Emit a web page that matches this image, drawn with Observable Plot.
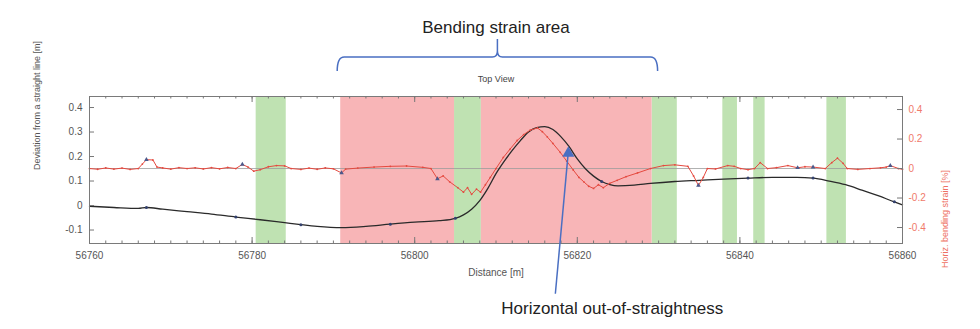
<!DOCTYPE html>
<html><head><meta charset="utf-8">
<script src="https://cdn.jsdelivr.net/npm/d3@7"></script>
<script src="https://cdn.jsdelivr.net/npm/@observablehq/plot@0.6"></script>
<style>body{margin:0;background:#fff} #chart svg{display:block}</style>
</head><body><div id="chart"></div>
<script>
// ---- data ----
const xTicks = [56760, 56780, 56800, 56820, 56840, 56860];
const yLeftTicks = [-0.1, 0, 0.1, 0.2, 0.3, 0.4];
const yRightTicks = [-0.4, -0.2, 0, 0.2, 0.4];

const greenStart = [56780.5, 56804.9, 56829.2, 56837.9, 56841.7, 56850.7];
const greenEnd   = [56784.2, 56808.2, 56832.3, 56839.7, 56843.1, 56853.1];
const redStart = [56790.9, 56808.2];
const redEnd   = [56804.9, 56829.2];

// deviation from a straight line [m] (left axis)
const devX = [56760,56763,56766,56767,56769,56772,56775,56778,56781,56784,56786,56788,56791,56794,56797,56800,56803,56805,56806,56807,56808,56809,56810,56811,56812,56813,56814,56815,56816,56817,56818,56819,56820,56821,56822,56823,56824,56825,56827,56829,56832,56835,56838,56841,56844,56847,56849,56851,56853,56855,56857,56859,56860];
const devY = [-0.003,-0.008,-0.012,-0.008,-0.015,-0.025,-0.035,-0.047,-0.058,-0.07,-0.078,-0.085,-0.09,-0.085,-0.076,-0.068,-0.062,-0.052,-0.038,-0.015,0.02,0.07,0.13,0.18,0.225,0.265,0.3,0.318,0.322,0.31,0.28,0.24,0.19,0.15,0.12,0.098,0.085,0.08,0.083,0.09,0.098,0.103,0.108,0.112,0.115,0.115,0.112,0.1,0.085,0.063,0.04,0.015,0.003];
const devMarkX = [56767, 56778, 56786, 56797, 56805, 56823, 56841, 56849, 56859];

// horizontal bending strain [%] (right axis)
const strainX = [56760,56761,56762,56763,56764,56765,56766,56766.5,56767,56767.8,56768.3,56769,56770,56771,56772,56773,56774,56775,56776,56777,56778,56778.8,56779.5,56780.2,56781,56782,56783,56784,56784.8,56786,56787,56788,56789,56790,56791,56791.5,56793,56795,56797,56799,56801,56802,56802.8,56803.5,56804.3,56805.3,56806,56806.5,56807,56807.6,56808.1,56808.7,56809.3,56810,56810.9,56811.7,56812.6,56813.4,56814.2,56815.1,56815.7,56816.3,56817,56817.9,56818.7,56819.5,56820.2,56820.8,56821.4,56822,56822.6,56823.2,56824,56824.9,56826,56827.4,56829,56830.6,56832,56833.6,56834.3,56834.9,56835.5,56836,56837,56838.5,56839.3,56840.1,56841,56841.8,56842.5,56843.4,56844.5,56845.9,56847.1,56848,56849,56850.5,56851.3,56852,56852.7,56853.2,56854.5,56856,56857.3,56858,56858.5,56859.5,56860];
const strainY = [0,-0.005,0.004,-0.004,0.003,-0.006,0,0.03,0.06,0.058,0.01,0.004,-0.004,0.006,0,0.005,-0.003,0.006,-0.002,0.007,0,0.028,0.01,-0.018,-0.008,0.012,0.02,0.018,0,-0.006,0.003,-0.005,0.004,-0.002,-0.03,-0.004,0.003,0.01,0.015,0.017,0.008,0,-0.07,-0.05,-0.09,-0.13,-0.16,-0.13,-0.175,-0.14,-0.16,-0.11,-0.06,0,0.075,0.13,0.19,0.23,0.26,0.275,0.25,0.215,0.17,0.11,0.05,-0.01,-0.06,-0.09,-0.12,-0.135,-0.11,-0.13,-0.1,-0.08,-0.055,-0.03,0,0.02,0.025,0.015,-0.05,-0.115,-0.06,0,-0.003,0.02,0.015,0,-0.008,0,0.04,0,0.006,0.02,0.005,0.012,0.01,0,0.04,0.07,0.035,0,-0.006,0,0.005,0.01,0.02,0,-0.005];
const strainMarkX = [56767, 56778.8, 56791, 56802.8, 56834.9, 56847.1, 56849, 56858.5];

// annotation arrow: from label to the out-of-straightness peak
const arrowFrom = {d: 56817.3, v: -0.36};
const arrowTo = {d: 56818.9, v: 0.222};

// ---- build ----
const W = 980, H = 329, ML = 89, MR = 78, MT = 96, MB = 86;
const plotW = W - ML - MR, plotH = H - MT - MB;
const toLeft = s => 0.151 + 0.602 * s;   // right-axis strain -> left-axis units
const fmt = d => d === 0 ? "0" : String(d);

const green = greenStart.map((a, i) => ({a, b: greenEnd[i]}));
const red = redStart.map((a, i) => ({a, b: redEnd[i]}));
const dev = devX.map((d, i) => ({d, v: devY[i]}));
const devMarks = dev.filter(p => devMarkX.includes(p.d));
const strain = strainX.map((d, i) => ({d, s: strainY[i]}));
const strainMarks = strain.filter(p => strainMarkX.includes(p.d));
const xMinor = d3.range(xTicks[0], xTicks[xTicks.length - 1] + 1, 2);

const font = "'Liberation Sans', Arial, sans-serif";
const blue = "#4a6fc2";

const chart = Plot.plot({
  width: W, height: H,
  marginLeft: ML, marginRight: MR, marginTop: MT, marginBottom: MB,
  style: {fontFamily: font, fontSize: "10px", color: "#555", background: "#fff"},
  x: {domain: [56760, 56860]},
  y: {domain: [-0.155, 0.445]},
  marks: [
    Plot.rect(green, {x1: "a", x2: "b", fill: "#bfe2b2"}),
    Plot.rect(red, {x1: "a", x2: "b", fill: "#f8b5b7"}),
    Plot.ruleY([toLeft(0)], {stroke: "#9a9a9a", strokeWidth: 0.8}),
    Plot.line(dev, {x: "d", y: "v", stroke: "#2a2a2a", strokeWidth: 1.3, curve: "monotone-x"}),
    Plot.dot(devMarks, {x: "d", y: "v", r: 1.5, fill: "#33416e"}),
    Plot.line(strain, {x: "d", y: d => toLeft(d.s), stroke: "#e5493f", strokeWidth: 1}),
    Plot.dot(strain, {x: "d", y: d => toLeft(d.s), r: 0.9, fill: "#e5493f"}),
    Plot.dot(strainMarks, {x: "d", y: d => toLeft(d.s), r: 1.7, symbol: "triangle", fill: "#4b5a8c"}),
    Plot.frame({stroke: "#7a7a7a"}),
    Plot.tickX(xMinor, {x: d => d, insetTop: plotH - 2.5, stroke: "#777"}),
    Plot.tickX(xMinor, {x: d => d, insetBottom: plotH - 2.5, stroke: "#777"}),
    Plot.tickX(xTicks, {x: d => d, insetTop: plotH - 6, stroke: "#777"}),
    Plot.tickX(xTicks, {x: d => d, insetBottom: plotH - 6, stroke: "#777"}),
    Plot.tickY(yLeftTicks, {y: d => d, insetRight: plotW - 5, stroke: "#777"}),
    Plot.tickY(yRightTicks.map(toLeft), {y: d => d, insetLeft: plotW - 5, stroke: "#777"}),
    Plot.axisX(xTicks, {tickSize: 0, tickPadding: 8, tickFormat: d => String(d), label: null}),
    Plot.axisY(yLeftTicks, {tickSize: 0, tickPadding: 7, tickFormat: fmt, label: null}),
    Plot.text(yRightTicks, {y: d => toLeft(d), frameAnchor: "right", dx: 6, textAnchor: "start", text: fmt, fill: "#f07a6a"}),
    Plot.text(["Deviation from a straight line [m]"], {frameAnchor: "left", dx: -52, rotate: -90, fontSize: 9, fill: "#555"}),
    Plot.text(["Horiz. bending strain [%]"], {frameAnchor: "right", dx: 43, rotate: -90, fontSize: 9, fill: "#ee6f62"}),
    Plot.text(["Distance [m]"], {frameAnchor: "bottom", dy: 32, fontSize: 10, fill: "#555"}),
    Plot.text(["Bending strain area"], {frameAnchor: "top", dy: -76, fontSize: 17, fill: "#222"}),
    Plot.text(["Top View"], {frameAnchor: "top", dy: -21, fontSize: 9, fill: "#444"}),
    Plot.text(["Horizontal out-of-straightness"], {x: 56824.3, frameAnchor: "bottom", dy: 70, fontSize: 17, fill: "#222"}),
    Plot.link([0], {x1: () => arrowFrom.d, y1: () => arrowFrom.v, x2: () => arrowTo.d, y2: () => arrowTo.v, stroke: blue, strokeWidth: 1.5}),
    Plot.dot([arrowTo], {x: "d", y: "v", symbol: "triangle", r: 4.5, fill: blue, dy: 2})
  ]
});
document.getElementById("chart").appendChild(chart);

// curly brace above the bending strain area, positioned with the x scale
const sx = chart.scale("x");
const X = sx.apply ? (v => sx.apply(v)) : d3.scaleLinear(sx.domain, sx.range);
const x0 = X(redStart[0]) - 3, x1 = X(redEnd[redEnd.length - 1]) + 6, xm = (x0 + x1) / 2;
const yb = 57, ye = 71, yt = 39;
d3.select(chart).append("path")
  .attr("d", `M${x0},${ye} Q${x0},${yb} ${x0 + 7},${yb} L${xm - 5},${yb} Q${xm},${yb} ${xm},${yb - 6} L${xm},${yt}
              M${xm},${yb - 6} Q${xm},${yb} ${xm + 5},${yb} L${x1 - 7},${yb} Q${x1},${yb} ${x1},${ye}`)
  .attr("fill", "none").attr("stroke", blue).attr("stroke-width", 1.5);
</script></body></html>
